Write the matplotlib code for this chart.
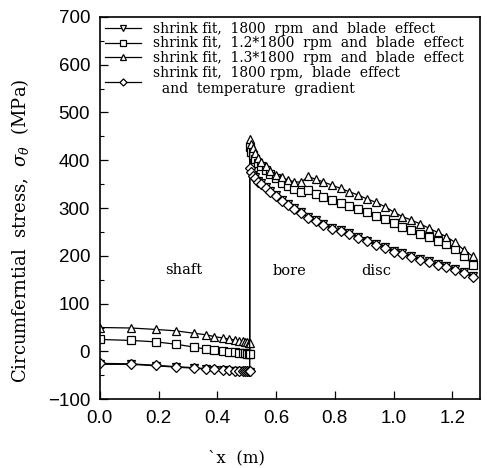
import matplotlib
matplotlib.use("Agg")
import matplotlib.pyplot as plt
from matplotlib.ticker import MultipleLocator, FormatStrFormatter

plt.rcParams['mathtext.fontset'] = 'dejavuserif'

# shaft (0 - 0.51 m) then disc (0.51 - 1.27 m), both share x = 0.51
x_shaft = [0.0, 0.105, 0.19, 0.26, 0.32, 0.36, 0.39, 0.42, 0.44, 0.46,
           0.475, 0.487, 0.495, 0.502, 0.507, 0.51]
x_disc = [0.51, 0.515, 0.522, 0.53, 0.54, 0.55, 0.565, 0.58, 0.60, 0.62,
          0.64, 0.66, 0.685, 0.71, 0.735, 0.76, 0.79, 0.82, 0.85, 0.88,
          0.91, 0.94, 0.97, 1.0, 1.03, 1.06, 1.09, 1.12, 1.15, 1.18,
          1.21, 1.24, 1.27]

# 1800 rpm + blade
v_shaft = [-27, -27, -30, -33, -35, -37, -38, -39, -40, -41, -41, -42, -42, -43, -43, -43]
v_disc = [418, 378, 370, 364, 357, 352, 344, 336, 327, 317, 308, 300, 291,
          282, 274, 266, 259, 254, 247, 240, 232, 225, 218, 211, 205, 200,
          194, 189, 183, 178, 172, 166, 158]
# 1.2*1800 rpm + blade
s_shaft = [25, 23, 20, 15, 9, 5, 2, 0, -1, -2, -3, -4, -4, -5, -5, -5]
s_disc = [428, 418, 410, 402, 395, 388, 380, 372, 362, 353, 346, 340, 333,
          337, 330, 323, 317, 311, 305, 298, 291, 284, 276, 269, 261, 254,
          246, 239, 231, 224, 214, 200, 181]
# 1.3*1800 rpm + blade
t_shaft = [50, 49, 46, 43, 38, 35, 31, 28, 26, 24, 22, 21, 20, 19, 18, 17]
t_disc = [445, 435, 425, 415, 405, 397, 388, 378, 370, 364, 359, 355, 354,
          366, 360, 355, 348, 341, 334, 327, 319, 312, 303, 292, 282, 275,
          267, 258, 249, 240, 228, 212, 199]
# 1800 rpm + blade + temperature gradient
d_shaft = [-25, -26, -29, -32, -34, -36, -37, -38, -39, -40, -40, -41, -41, -42, -42, -42]
d_disc = [383, 375, 368, 362, 355, 350, 342, 334, 325, 315, 306, 298, 289,
          280, 272, 264, 257, 252, 245, 238, 230, 223, 216, 209, 203, 198,
          192, 187, 181, 176, 170, 164, 156]

labels = ["shrink fit,  1800  rpm  and  blade  effect",
          "shrink fit,  1.2*1800  rpm  and  blade  effect",
          "shrink fit,  1.3*1800  rpm  and  blade  effect",
          "shrink fit,  1800 rpm,  blade  effect\n  and  temperature  gradient"]

SERIF = 'DejaVu Serif'

fig = plt.figure(figsize=(4.87, 4.68), dpi=100)
ax = fig.add_axes([0.205, 0.147, 0.781, 0.817])

series = [(v_shaft, v_disc, 'v'), (s_shaft, s_disc, 's'),
          (t_shaft, t_disc, '^'), (d_shaft, d_disc, 'D')]
for (ys, yd, m), lab in zip(series, labels):
    ax.plot(x_shaft + x_disc, ys + yd, color='black', lw=0.9,
            marker=m, ms=6 if m != 'D' else 4.8, mfc='white', mec='black',
            mew=0.9, label=lab)

ax.set_xlim(0, 1.295)
ax.set_ylim(-100, 700)
ax.xaxis.set_major_locator(MultipleLocator(0.2))
ax.yaxis.set_major_locator(MultipleLocator(100))
ax.yaxis.set_minor_locator(MultipleLocator(50))
ax.tick_params(direction='in', length=6, width=0.9, labelsize=13.5)
ax.tick_params(axis='x', pad=8)
ax.tick_params(axis='y', pad=7)
ax.tick_params(which='minor', direction='in', length=3, width=0.8)
ax.xaxis.set_major_formatter(FormatStrFormatter('%.1f'))
for lbl in ax.get_xticklabels() + ax.get_yticklabels():
    lbl.set_family('Liberation Sans')
for sp in ax.spines.values():
    sp.set_linewidth(1.2)

ax.set_xlabel("`x  (m)", family=SERIF, fontsize=12, va='center')
ax.xaxis.set_label_coords(0.36, -0.153)
ax.set_ylabel(r"Circumferntial  stress,  $\sigma_\theta$  (MPa)",
              family=SERIF, fontsize=13, va='center')
ax.yaxis.set_label_coords(-0.21, 0.44)

ax.text(0.286, 171, "shaft", family=SERIF, fontsize=10.5,
        ha='center', va='center')
ax.text(0.645, 169, "bore", family=SERIF, fontsize=10.5,
        ha='center', va='center')
ax.text(0.94, 169, "disc", family=SERIF, fontsize=10.5,
        ha='center', va='center')

leg = ax.legend(loc='upper left', frameon=False, handlelength=2.6,
                prop={'family': SERIF, 'size': 10},
                borderaxespad=0.05, borderpad=0.3, labelspacing=0.05,
                handletextpad=0.9, markerscale=0.75)

fig.savefig("out.png", dpi=100)
